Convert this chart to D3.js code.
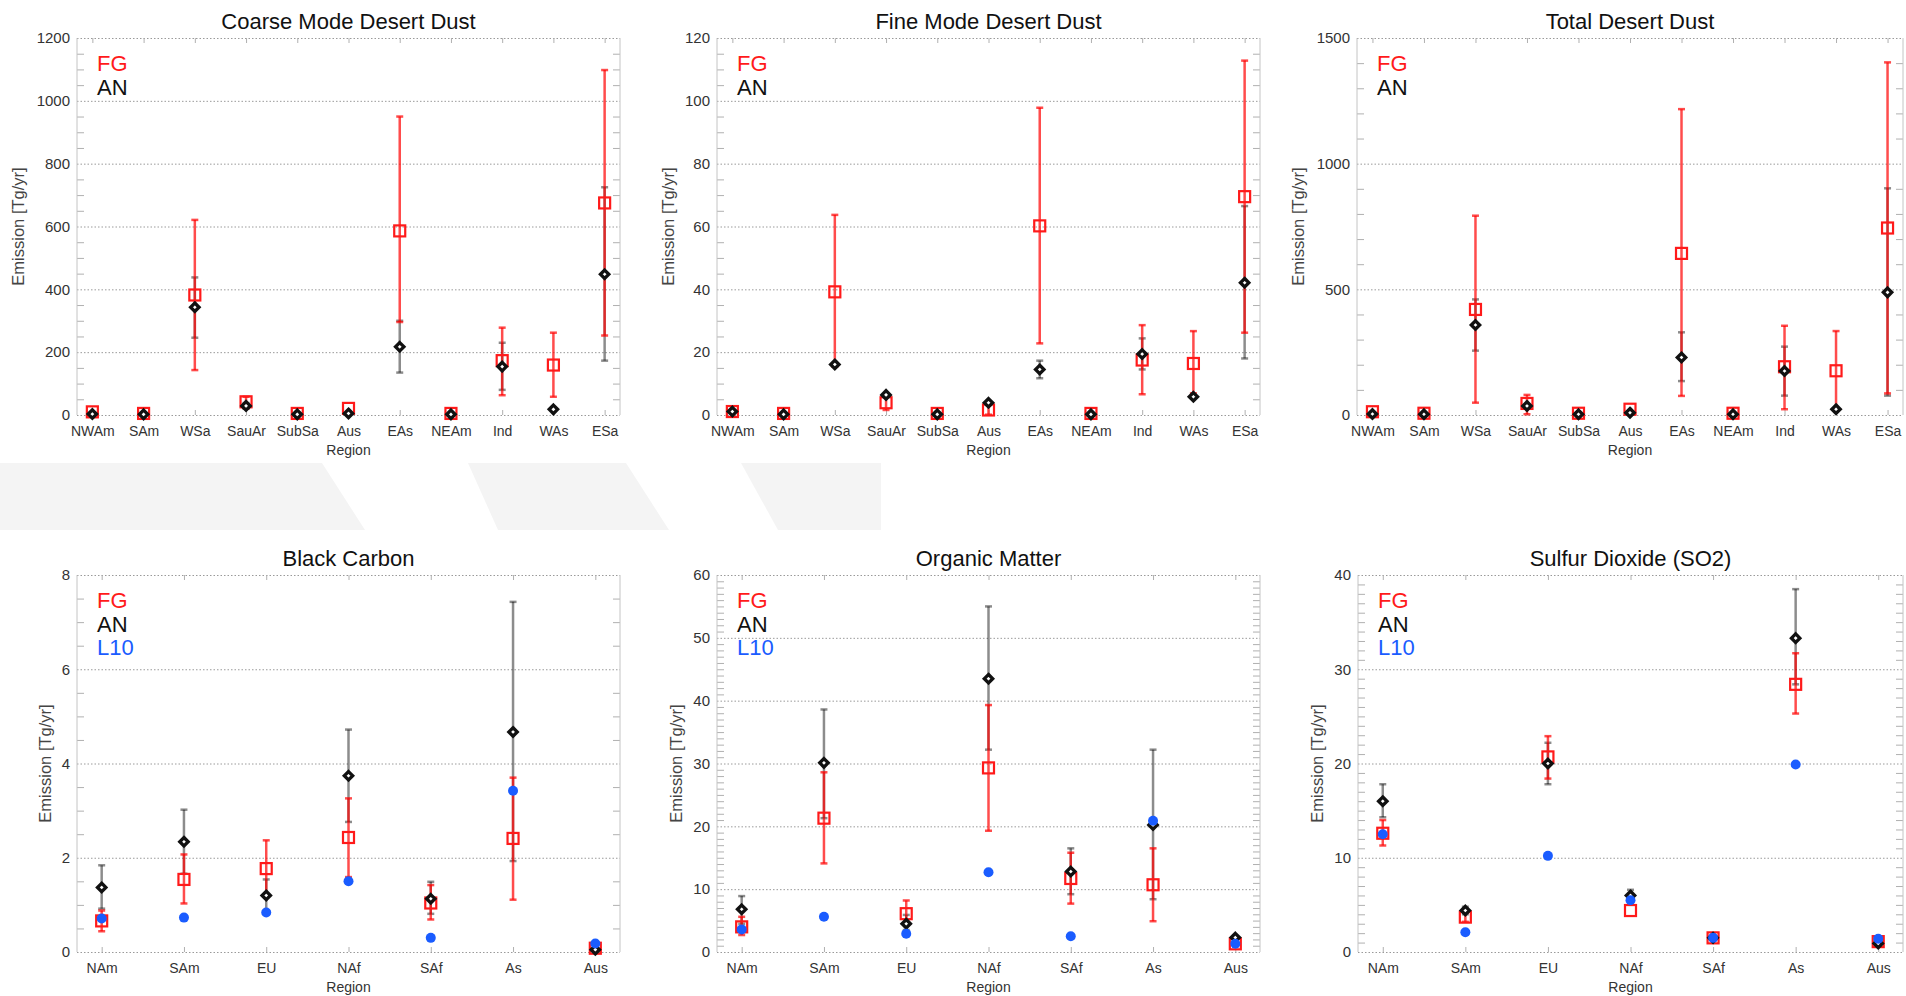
<!DOCTYPE html>
<html>
<head>
<meta charset="utf-8">
<script src="https://cdn.jsdelivr.net/npm/d3@7"></script>
<style>
  body { margin: 0; background: #fff; }
  svg { display: block; font-family: 'Liberation Sans', Arial, sans-serif; }
</style>
</head>
<body>
<svg id="chart" width="1906" height="996"></svg>
<script>
// region names
const dustRegions = ['NWAm', 'SAm', 'WSa', 'SauAr', 'SubSa', 'Aus', 'EAs', 'NEAm', 'Ind', 'WAs', 'ESa'];
const combRegions = ['NAm', 'SAm', 'EU', 'NAf', 'SAf', 'As', 'Aus'];

// coarse mode dust (Tg/yr)
const coarseFG   = [10, 5, 382, 42, 5, 21, 586, 5, 173, 159, 675];
const coarseFGLo = [null, null, 143, 22, null, null, 296, null, 63, 58, 253];
const coarseFGHi = [null, null, 621, 58, null, null, 950, null, 278, 262, 1098];
const coarseAN   = [3, 2, 343, 29, 2, 5, 217, 2, 154, 18, 448];
const coarseANLo = [null, null, 246, 20, null, null, 135, null, 80, null, 173];
const coarseANHi = [null, null, 438, 38, null, null, 300, null, 230, null, 725];

// fine mode dust
const fineFG   = [1.1, 0.5, 39.2, 3.9, 0.5, 1.6, 60.2, 0.5, 17.5, 16.4, 69.5];
const fineFGLo = [null, null, 15.4, 1.6, null, 0.1, 22.8, null, 6.6, 6.9, 26.2];
const fineFGHi = [null, null, 63.7, 5.8, null, 3.2, 97.8, null, 28.6, 26.7, 112.8];
const fineAN   = [1.1, 0.2, 16.1, 6.4, 0.2, 3.9, 14.5, 0.2, 19.4, 5.8, 42.1];
const fineANLo = [null, null, null, null, null, null, 11.7, null, 14.5, null, 18.0];
const fineANHi = [null, null, null, null, null, null, 17.3, null, 24.4, null, 66.5];

// total dust
const totalFG   = [13, 7, 420, 46, 7, 23, 643, 7, 192, 176, 744];
const totalFGLo = [null, null, 49, 3, null, null, 76, null, 23, 27, 86];
const totalFGHi = [null, null, 793, 80, null, null, 1217, null, 355, 334, 1403];
const totalAN   = [4, 3, 358, 36, 3, 9, 229, 3, 175, 23, 488];
const totalANLo = [null, null, 256, null, null, null, 135, null, 77, null, 77];
const totalANHi = [null, null, 460, null, null, null, 329, null, 272, null, 902];

// black carbon
const bcFG   = [0.66, 1.54, 1.77, 2.43, 1.04, 2.41, 0.08];
const bcFGLo = [0.44, 1.03, 1.20, 1.59, 0.69, 1.11, null];
const bcFGHi = [0.88, 2.07, 2.37, 3.26, 1.42, 3.70, null];
const bcAN   = [1.37, 2.34, 1.20, 3.74, 1.13, 4.67, 0.05];
const bcANLo = [0.92, 1.66, 0.86, 2.76, 0.81, 1.93, null];
const bcANHi = [1.84, 3.02, 1.54, 4.72, 1.49, 7.43, null];
const bcL10  = [0.71, 0.73, 0.84, 1.50, 0.30, 3.42, 0.18];

// organic matter
const omFG   = [4.0, 21.3, 6.1, 29.3, 11.7, 10.7, 1.3];
const omFGLo = [2.7, 14.1, 4.3, 19.3, 7.7, 4.9, null];
const omFGHi = [5.6, 28.6, 8.2, 39.3, 15.8, 16.5, null];
const omAN   = [6.8, 30.1, 4.5, 43.5, 12.8, 20.2, 2.3];
const omANLo = [4.5, 21.3, 3.5, 32.2, 9.2, 8.4, null];
const omANHi = [8.9, 38.6, 5.9, 55.0, 16.5, 32.2, null];
const omL10  = [3.6, 5.6, 2.9, 12.7, 2.5, 20.9, 1.3];

// sulfur dioxide
const so2FG   = [12.6, 3.7, 20.7, 4.4, 1.5, 28.4, 1.1];
const so2FGLo = [11.3, 3.2, 18.4, null, null, 25.3, null];
const so2FGHi = [14.0, 4.2, 22.9, null, null, 31.7, null];
const so2AN   = [16.0, 4.4, 20.0, 6.0, 1.5, 33.3, 0.9];
const so2ANLo = [14.3, 4.0, 17.8, 5.4, null, 28.4, null];
const so2ANHi = [17.8, 4.8, 22.2, 6.6, null, 38.5, null];
const so2L10  = [12.5, 2.1, 10.2, 5.5, 1.5, 19.9, 1.4];

const panels = [
  {title: 'Coarse Mode Desert Dust', regions: dustRegions, yMax: 1200, step: 200, minor: 50,
   fg: [coarseFG, coarseFGLo, coarseFGHi], an: [coarseAN, coarseANLo, coarseANHi]},
  {title: 'Fine Mode Desert Dust', regions: dustRegions, yMax: 120, step: 20, minor: 5,
   fg: [fineFG, fineFGLo, fineFGHi], an: [fineAN, fineANLo, fineANHi]},
  {title: 'Total Desert Dust', regions: dustRegions, yMax: 1500, step: 500, minor: 100,
   fg: [totalFG, totalFGLo, totalFGHi], an: [totalAN, totalANLo, totalANHi]},
  {title: 'Black Carbon', regions: combRegions, yMax: 8, step: 2, minor: 0.5,
   fg: [bcFG, bcFGLo, bcFGHi], an: [bcAN, bcANLo, bcANHi], l10: bcL10},
  {title: 'Organic Matter', regions: combRegions, yMax: 60, step: 10, minor: 1,
   fg: [omFG, omFGLo, omFGHi], an: [omAN, omANLo, omANHi], l10: omL10},
  {title: 'Sulfur Dioxide (SO2)', regions: combRegions, yMax: 40, step: 10, minor: 1,
   fg: [so2FG, so2FGLo, so2FGHi], an: [so2AN, so2ANLo, so2ANHi], l10: so2L10}
];

// frame boxes in page pixels
const layout = [
  {x: 77, y: 38, w: 543, h: 377, yTitleX: 18},
  {x: 717, y: 38, w: 543, h: 377, yTitleX: 668},
  {x: 1357, y: 38, w: 546, h: 377, yTitleX: 1298},
  {x: 77, y: 575, w: 543, h: 377, yTitleX: 45},
  {x: 717, y: 575, w: 543, h: 377, yTitleX: 676},
  {x: 1358, y: 575, w: 545, h: 377, yTitleX: 1317}
];

const RED = '#ff1a1a';
const BLUE = '#1a5cff';

const svg = d3.select('#chart');

// faint slide background strips between the rows
const strips = [
  [[0, 463], [322, 463], [365, 530], [0, 530]],
  [[468, 463], [626, 463], [669, 530], [498, 530]],
  [[741, 463], [881, 463], [881, 530], [778, 530]]
];
svg.append('g').selectAll('path')
  .data(strips)
  .join('path')
  .attr('d', d => d3.line()(d) + 'Z')
  .attr('fill', '#f4f4f4');

const diamond = s => `M0,${-s}L${s},0L0,${s}L${-s},0Z`;

panels.forEach((p, i) => {
  const L = layout[i];
  const g = svg.append('g').attr('transform', `translate(${L.x},${L.y})`);

  const x = d3.scalePoint().domain(p.regions).range([0, L.w]).padding(0.3);
  const y = d3.scaleLinear().domain([0, p.yMax]).range([L.h, 0]);
  const majors = d3.range(0, p.yMax + p.step / 2, p.step);
  const minors = d3.range(0, p.yMax + p.minor / 2, p.minor)
    .filter(v => Math.abs(v / p.step - Math.round(v / p.step)) > 1e-6);

  // dotted grid at the major ticks
  const grid = g.append('g')
    .call(d3.axisLeft(y).tickValues(majors).tickSize(-L.w).tickFormat(''));
  grid.select('.domain').remove();
  grid.selectAll('line').attr('stroke', '#9a9a9a').attr('stroke-dasharray', '1.5,2');

  // minor ticks pointing inward on both sides
  const minL = g.append('g').call(d3.axisLeft(y).tickValues(minors).tickSize(-7).tickFormat(''));
  const minR = g.append('g').attr('transform', `translate(${L.w},0)`)
    .call(d3.axisRight(y).tickValues(minors).tickSize(-7).tickFormat(''));
  [minL, minR].forEach(a => {
    a.select('.domain').remove();
    a.selectAll('line').attr('stroke', '#b0b0b0');
  });

  // region ticks at top and bottom
  const topT = g.append('g').call(d3.axisTop(x).tickSize(-5).tickFormat(''));
  const botT = g.append('g').attr('transform', `translate(0,${L.h})`)
    .call(d3.axisBottom(x).tickSize(-5).tickFormat(''));
  [topT, botT].forEach(a => {
    a.select('.domain').remove();
    a.selectAll('line').attr('stroke', '#b0b0b0');
  });

  // side frame
  g.append('line').attr('x1', 0).attr('x2', 0).attr('y1', 0).attr('y2', L.h)
    .attr('stroke', '#c4c4c4');
  g.append('line').attr('x1', L.w).attr('x2', L.w).attr('y1', 0).attr('y2', L.h)
    .attr('stroke', '#c4c4c4');

  // y labels
  const yAx = g.append('g')
    .call(d3.axisLeft(y).tickValues(majors).tickSize(0).tickPadding(7).tickFormat(d3.format('d')));
  yAx.select('.domain').remove();
  yAx.selectAll('text')
    .style('font-size', '15px')
    .style('font-family', "'Liberation Sans', Arial, sans-serif")
    .attr('fill', '#333');

  // x labels
  const xAx = g.append('g').attr('transform', `translate(0,${L.h})`)
    .call(d3.axisBottom(x).tickSize(0).tickPadding(11));
  xAx.select('.domain').remove();
  xAx.selectAll('text')
    .style('font-size', '14px')
    .style('font-family', "'Liberation Sans', Arial, sans-serif")
    .attr('fill', '#333');

  g.append('text')
    .attr('x', L.w / 2).attr('y', L.h + 40)
    .attr('text-anchor', 'middle')
    .style('font-size', '14px')
    .attr('fill', '#333')
    .text('Region');

  svg.append('text')
    .attr('transform', `translate(${L.yTitleX},${L.y + L.h / 2}) rotate(-90)`)
    .attr('text-anchor', 'middle')
    .attr('dy', '0.35em')
    .style('font-size', '16.5px')
    .attr('fill', '#444')
    .text('Emission [Tg/yr]');

  g.append('text')
    .attr('x', L.w / 2).attr('y', -9)
    .attr('text-anchor', 'middle')
    .style('font-size', '22px')
    .attr('fill', '#111')
    .text(p.title);

  // legend
  const legend = [['FG', RED], ['AN', '#111']];
  if (p.l10) legend.push(['L10', BLUE]);
  g.selectAll('.leg')
    .data(legend)
    .join('text')
    .attr('x', 20)
    .attr('y', (d, k) => 33 + k * 23.5)
    .style('font-size', '22px')
    .attr('fill', d => d[1])
    .text(d => d[0]);

  // error bars
  const bars = (series, color, width) => {
    const [vals, lo, hi] = series;
    const rows = p.regions.map((r, k) => ({r, lo: lo[k], hi: hi[k]}))
      .filter(d => d.lo != null && d.hi != null);
    const eg = g.append('g').attr('stroke', color);
    eg.selectAll('.bar').data(rows).join('line')
      .attr('x1', d => x(d.r)).attr('x2', d => x(d.r))
      .attr('y1', d => y(d.lo)).attr('y2', d => y(d.hi))
      .attr('stroke-width', width);
    eg.selectAll('.cap').data(rows.flatMap(d => [{r: d.r, v: d.lo}, {r: d.r, v: d.hi}]))
      .join('line')
      .attr('x1', d => x(d.r) - 3.5).attr('x2', d => x(d.r) + 3.5)
      .attr('y1', d => y(d.v)).attr('y2', d => y(d.v))
      .attr('stroke-width', 2.5);
  };
  bars(p.an, 'rgba(0,0,0,0.45)', 2.5);
  bars(p.fg, 'rgba(255,0,0,0.7)', 2.5);

  // FG squares
  g.selectAll('.fg').data(p.regions.map((r, k) => ({r, v: p.fg[0][k]})))
    .join('rect')
    .attr('x', d => x(d.r) - 5.5).attr('y', d => y(d.v) - 5.5)
    .attr('width', 11).attr('height', 11)
    .attr('fill', 'none').attr('stroke', RED).attr('stroke-width', 2.2);

  // AN diamonds
  g.selectAll('.an').data(p.regions.map((r, k) => ({r, v: p.an[0][k]})))
    .join('path')
    .attr('transform', d => `translate(${x(d.r)},${y(d.v)})`)
    .attr('d', diamond(4.2))
    .attr('fill', '#fff').attr('stroke', '#111').attr('stroke-width', 3.3);

  // L10 dots
  if (p.l10) {
    g.selectAll('.l10').data(p.regions.map((r, k) => ({r, v: p.l10[k]})))
      .join('circle')
      .attr('cx', d => x(d.r)).attr('cy', d => y(d.v))
      .attr('r', 5)
      .attr('fill', BLUE);
  }
});
</script>
</body>
</html>
